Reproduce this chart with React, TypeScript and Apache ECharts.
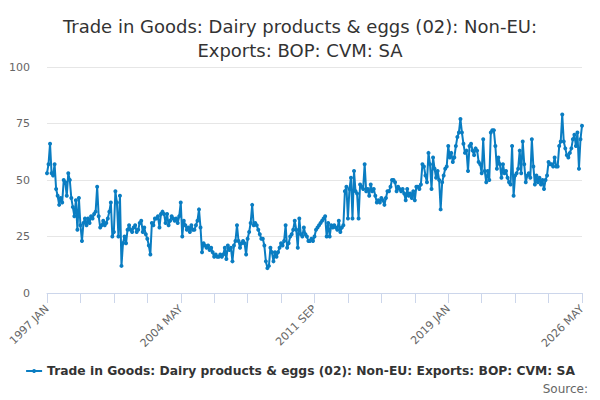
import React, { useEffect, useRef } from "react";
import * as echarts from "echarts";

const TITLE = "Trade in Goods: Dairy products & eggs (02): Non-EU:\nExports: BOP: CVM: SA";
const SERIES_NAME = "Trade in Goods: Dairy products & eggs (02): Non-EU: Exports: BOP: CVM: SA";
const MONTHS = ["JAN", "FEB", "MAR", "APR", "MAY", "JUN", "JUL", "AUG", "SEP", "OCT", "NOV", "DEC"];
const START_YEAR = 1997;
const Y_TICKS = [0, 25, 50, 75, 100];

const v1997 = [53, 57, 66, 53, 52, 57, 46, 43, 39, 42, 40, 50];
const v1998 = [49, 43, 53, 50, 42, 38, 34, 41, 28, 42, 30, 23];
const v1999 = [31, 33, 30, 33, 31, 34, 33, 35, 36, 47, 34, 29];
const v2000 = [30, 32, 30, 31, 33, 36, 40, 25, 27, 45, 40, 25];
const v2001 = [43, 12, 22, 25, 22, 28, 30, 28, 27, 29, 30, 27];
const v2002 = [28, 31, 32, 27, 29, 26, 24, 21, 17, 31, 30, 33];
const v2003 = [33, 34, 29, 35, 36, 35, 31, 35, 30, 32, 34, 33];
const v2004 = [32, 33, 31, 34, 40, 25, 32, 30, 28, 29, 27, 30];
const v2005 = [28, 28, 30, 32, 37, 29, 18, 22, 21, 20, 21, 19];
const v2006 = [20, 18, 16, 17, 16, 16, 17, 16, 17, 20, 15, 21];
const v2007 = [19, 20, 14, 21, 23, 30, 23, 20, 22, 23, 22, 17];
const v2008 = [24, 27, 31, 39, 30, 31, 30, 28, 26, 24, 24, 21];
const v2009 = [14, 11, 12, 20, 18, 14, 18, 16, 18, 20, 22, 21];
const v2010 = [23, 30, 20, 22, 25, 26, 28, 32, 28, 20, 33, 26];
const v2011 = [25, 29, 26, 25, 23, 23, 24, 23, 25, 28, 29, 30];
const v2012 = [31, 32, 33, 34, 25, 31, 25, 30, 29, 30, 29, 28];
const v2013 = [32, 27, 29, 30, 45, 47, 33, 46, 51, 33, 54, 45];
const v2014 = [44, 33, 48, 47, 46, 57, 45, 46, 43, 48, 45, 46];
const v2015 = [43, 40, 41, 40, 42, 41, 39, 42, 45, 45, 47, 50];
const v2016 = [50, 49, 45, 47, 46, 45, 46, 44, 41, 46, 43, 44];
const v2017 = [42, 45, 41, 47, 47, 46, 48, 57, 56, 52, 49, 62];
const v2018 = [57, 46, 60, 55, 51, 54, 50, 37, 49, 52, 55, 56];
const v2019 = [65, 60, 62, 58, 60, 65, 69, 71, 77, 71, 66, 62];
const v2020 = [63, 54, 65, 66, 63, 61, 64, 63, 58, 57, 53, 68];
const v2021 = [54, 49, 54, 50, 71, 72, 72, 65, 55, 60, 57, 51];
const v2022 = [57, 53, 54, 51, 49, 48, 65, 43, 52, 53, 55, 63];
const v2023 = [53, 67, 57, 49, 52, 53, 51, 68, 56, 48, 52, 49];
const v2024 = [51, 48, 50, 46, 50, 52, 58, 57, 57, 56, 60, 56];
const v2025 = [56, 65, 67, 79, 67, 64, 61, 60, 62, 64, 68, 70];
const v2026 = [65, 71, 55, 68, 74];

const values: number[] = [
  ...v1997, ...v1998, ...v1999, ...v2000, ...v2001, ...v2002, ...v2003, ...v2004,
  ...v2005, ...v2006, ...v2007, ...v2008, ...v2009, ...v2010, ...v2011, ...v2012,
  ...v2013, ...v2014, ...v2015, ...v2016, ...v2017, ...v2018, ...v2019, ...v2020,
  ...v2021, ...v2022, ...v2023, ...v2024, ...v2025, ...v2026,
];

const categories: string[] = values.map((_, i) => {
  const y = START_YEAR + Math.floor(i / 12);
  return `${y} ${MONTHS[i % 12]}`;
});

const FONT = "DejaVu Sans";
const LINE_COLOR = "#0a7dc2";

export default function App() {
  const ref = useRef<HTMLDivElement>(null);
  useEffect(() => {
    if (!ref.current) return;
    const chart = echarts.init(ref.current, null, { renderer: "svg" });
    chart.setOption({
      animation: false,
      backgroundColor: "#ffffff",
      title: {
        text: TITLE,
        left: "center",
        top: 9,
        textStyle: {
          fontFamily: FONT,
          fontSize: 18,
          fontWeight: "normal",
          color: "#333333",
          lineHeight: 24,
        },
      },
      grid: { left: 47, right: 18, top: 67, bottom: 107 },
      xAxis: {
        type: "category",
        data: categories,
        boundaryGap: false,
        axisLine: { lineStyle: { color: "#ccd6eb", width: 1 } },
        axisTick: { interval: 21, length: 10, lineStyle: { color: "#ccd6eb" } },
        axisLabel: {
          interval: 87,
          rotate: 45,
          color: "#666666",
          fontFamily: FONT,
          fontSize: 11,
          margin: 14,
        },
        splitLine: { show: false },
      },
      yAxis: {
        type: "value",
        min: Y_TICKS[0],
        max: Y_TICKS[Y_TICKS.length - 1],
        interval: 25,
        axisLine: { show: false },
        axisTick: { show: false },
        axisLabel: { color: "#666666", fontFamily: FONT, fontSize: 11, margin: 17 },
        splitLine: { lineStyle: { color: "#e6e6e6", width: 1 } },
      },
      legend: {
        top: 365,
        left: "center",
        padding: 0,
        itemWidth: 16,
        itemHeight: 5,
        itemGap: 10,
        textStyle: { fontFamily: FONT, fontSize: 12.3, fontWeight: "bold", color: "#333333" },
        data: [SERIES_NAME],
      },
      graphic: [
        {
          type: "text",
          right: 12,
          top: 383,
          style: { text: "Source:", fill: "#666666", font: `12px ${FONT}` },
        },
      ],
      series: [
        {
          name: SERIES_NAME,
          type: "line",
          data: values,
          showSymbol: true,
          showAllSymbol: true,
          symbol: "circle",
          symbolSize: 4,
          itemStyle: { color: LINE_COLOR },
          lineStyle: { color: LINE_COLOR, width: 2 },
        },
      ],
    });
    return () => chart.dispose();
  }, []);
  return (
    <div
      ref={ref}
      style={{ position: "fixed", left: 0, top: 0, width: 600, height: 400 }}
    />
  );
}
